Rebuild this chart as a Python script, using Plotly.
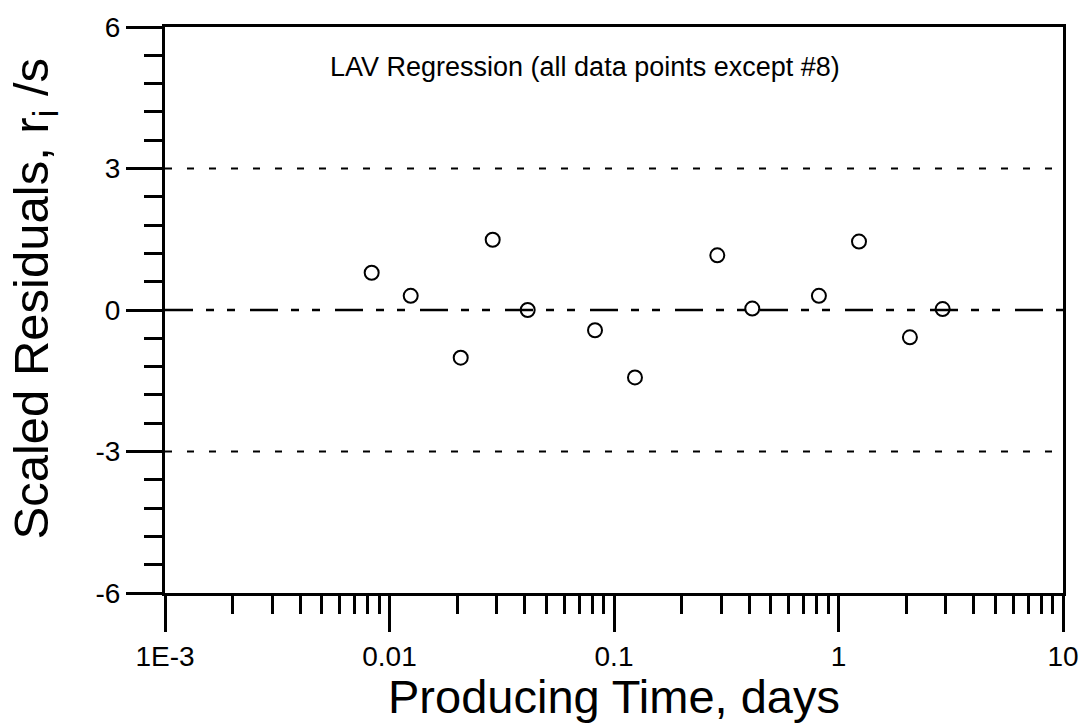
import plotly.graph_objects as go

# Data
time_days = [0.00833, 0.01243, 0.02076, 0.02882, 0.04126, 0.0823, 0.124,
             0.2885, 0.413, 0.818, 1.234, 2.08, 2.91]
scaled_resid = [0.79, 0.30, -1.01, 1.49, 0.0, -0.43, -1.43,
                1.16, 0.03, 0.30, 1.45, -0.58, 0.02]

ref_levels = [3, -3]
center_level = [0]
x_ticks = [0.001, 0.01, 0.1, 1, 10]
x_tick_labels = ["1E-3", "0.01", "0.1", "1", "10"]
y_ticks = [-6, -3, 0, 3, 6]
y_tick_labels = ["-6", "-3", "0", "3", "6"]

FONT = "Liberation Sans, Arial, sans-serif"

fig = go.Figure()

# reference lines (span full x range)
for lv in ref_levels:
    fig.add_trace(go.Scatter(x=[x_ticks[0], x_ticks[-1]], y=[lv, lv], mode="lines",
                             line=dict(color="black", width=2, dash="7px,15px"),
                             showlegend=False, hoverinfo="skip"))
for lv in center_level:
    fig.add_trace(go.Scatter(x=[x_ticks[0], x_ticks[-1]], y=[lv, lv], mode="lines",
                             line=dict(color="black", width=2.5,
                                       dash="28px,13px,8px,13px,8px,15px"),
                             showlegend=False, hoverinfo="skip"))

fig.add_trace(go.Scatter(x=time_days, y=scaled_resid, mode="markers",
                         marker=dict(symbol="circle-open", size=14, color="black",
                                     line=dict(color="black", width=2)),
                         showlegend=False))

fig.add_annotation(text="LAV Regression (all data points except #8)",
                   xref="paper", yref="paper", x=0.468, y=0.93,
                   xanchor="center", yanchor="middle", showarrow=False,
                   font=dict(family=FONT, size=27, color="black"))

fig.add_annotation(text="Scaled Residuals, r<sub>i</sub> /s",
                   xref="paper", yref="paper", x=-0.145, y=0.52,
                   xanchor="center", yanchor="middle", showarrow=False,
                   textangle=-90,
                   font=dict(family=FONT, size=49, color="black"))

fig.update_layout(
    width=1091, height=723,
    margin=dict(l=165, r=28, t=21, b=130),
    paper_bgcolor="white", plot_bgcolor="white",
    font=dict(family=FONT, color="black"),
    xaxis=dict(type="log", range=[-3, 1],
               tickvals=x_ticks, ticktext=x_tick_labels,
               ticks="outside", ticklen=36, tickwidth=3, tickcolor="black",
               showline=True, linewidth=3, linecolor="black", mirror=True,
               showgrid=False, zeroline=False,
               tickfont=dict(family=FONT, size=28, color="black"),
               minor=dict(dtick="D1", ticks="outside", ticklen=18, tickwidth=3,
                          tickcolor="black", showgrid=False),
               title=dict(text="Producing Time, days", standoff=6,
                          font=dict(family=FONT, size=47, color="black"))),
    yaxis=dict(range=[-6, 6], tickvals=y_ticks, ticktext=y_tick_labels,
               ticks="outside", ticklen=36, tickwidth=3, tickcolor="black",
               showline=True, linewidth=3, linecolor="black", mirror=True,
               showgrid=False, zeroline=False,
               tickfont=dict(family=FONT, size=28, color="black"),
               minor=dict(dtick=0.6, ticks="outside", ticklen=18, tickwidth=3,
                          tickcolor="black", showgrid=False)),
)

fig.write_html("out.html")
